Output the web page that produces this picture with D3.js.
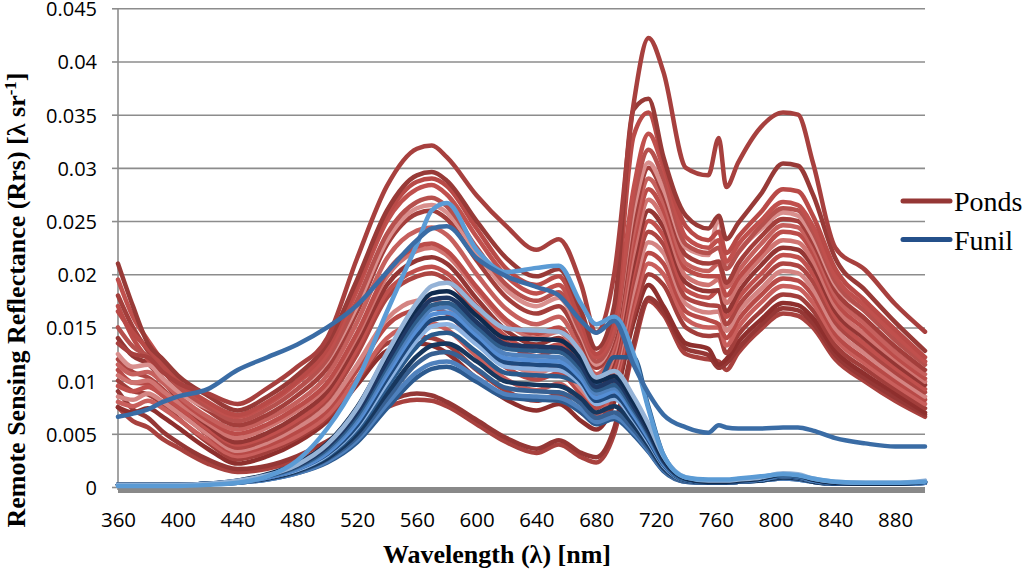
<!DOCTYPE html>
<html><head><meta charset="utf-8">
<script src="https://cdn.jsdelivr.net/npm/d3@7"></script>
<style>body{margin:0;background:#fff}svg{display:block}</style>
</head><body><svg id="c" width="1024" height="570"></svg>
<script>
const wavelengths = [360,370,380,390,400,420,440,460,480,500,520,540,560,570,580,600,620,640,655,670,680,692,705,715,725,740,755,762,767,775,790,805,815,825,840,860,880,900];
// Rrs values in units of 1e-3 sr^-1
const P01 = [13.5,12.5,12.2,10.8,9.8,8.8,7.8,9.3,11.3,14,21.5,28.3,31.8,32.1,31,27.4,24.5,22.3,23.3,19,14.5,20,36,42.2,39,30,29.3,32.8,28.2,30.5,33.8,35.2,35,30.5,22.5,20.4,17.2,14.6];
const P02 = [21,17,13.5,12,10.5,8.6,7.2,8.5,10.5,13.5,19.5,26,29.3,29.6,28.8,25,21.5,19.8,20.5,16.5,13,17,35.5,36.5,31,25.5,24.3,25.5,23.3,24.8,27.5,30.4,30.2,27.5,21.5,18.5,15.5,12.8];
const P03 = [16.5,14.5,13,11.5,10,8,6.8,8,10,13,19,25.5,28.7,29,28.3,24.3,20.5,19,19.8,15.5,12.5,16,33,35.2,30.5,24.5,23.2,24,22,23.5,25.8,28,27.8,25.5,20.5,17.5,14.8,12.2];
const P04 = [19.5,16,13.8,11.8,10,7.8,6.6,7.8,9.8,12.5,18.5,25,28,28.4,27.5,23.5,19.8,18.2,19,15,12.2,15,28,33.2,30,23.5,22.5,23.2,21.2,22.8,25,26.8,26.5,24.5,19.8,17,14.3,11.8];
const P05 = [15,13.2,12.3,11,9.5,7.5,6.2,7.3,9.2,12,17.5,23.8,26.8,27.2,26.4,22.5,19,17.5,18.3,14.5,11.8,14.5,27,31.7,29,22.8,22,22.5,20.5,22,24.5,26.2,26,24,19.3,16.5,13.8,11.5];
const P06 = [12.5,11.3,11.5,10.2,9,7.4,6.6,7.6,9.2,11.8,17,23.2,26.2,26.5,25.8,22,18.5,17,17.8,14.2,11.5,14.5,26,30.5,28,22.5,21.8,25.4,21,22.2,24.2,25.8,25.5,23.5,19,16.5,14,11.8];
const P07 = [18,15,12.8,11,9.3,7.2,5.8,6.8,8.6,11.2,16.5,22.8,25.7,26,25.2,21.3,17.8,16.3,17,13.6,11.2,14,25,30,27.5,21.8,21,21.2,19.2,21,23.5,25.2,25,23,18.5,15.8,13.2,11];
const P08 = [11.5,10.6,10.8,9.8,8.6,6.6,5.4,6.4,8,10.5,15.5,21.5,24.1,24.4,23.7,20,16.7,15.3,16,12.8,10.6,13.5,24,29,26.8,21,20.3,21,18.8,20.3,22.8,24.6,24.4,22.5,18,15.3,12.7,10.6];
const P09 = [17,14,12,10.2,8.5,6.3,5,5.9,7.5,9.8,14.5,20.2,22.6,22.9,22.2,18.8,15.7,14.4,15,12,10,13,23,28,26,20.5,19.8,19.8,18,19.6,22,24,23.8,22,17.5,14.8,12.3,10.2];
const P10 = [10.5,9.8,10,9,8,6,4.6,5.6,7.2,9.5,14.2,19.8,22.2,22.5,21.8,18.5,15.4,14,14.6,11.7,9.7,12.5,22,27,25.2,19.8,19,19.5,17.3,19,21.5,23.2,23,21.3,17,14.3,12,9.9];
const P11 = [14,12.3,11.6,10,8.3,5.8,4.2,5.1,6.7,9,13.6,19,21.3,21.6,21,17.7,14.7,13.4,14,11.2,9.3,12,21,26,24.4,19.2,18.4,18.5,16.5,18.3,20.8,22.5,22.3,20.7,16.5,13.9,11.6,9.6];
const P12 = [9.5,9,9.4,8.6,7.6,5.5,4,4.8,6.3,8.5,13,18.3,20.4,20.7,20.1,17,14.1,12.8,13.4,10.8,9,11.5,20.3,25,23.6,18.5,17.8,18.5,16,17.7,20,21.8,21.6,20,16,13.4,11.2,9.2];
const P13 = [12,10.8,10.3,9.2,7.8,5.4,3.7,4.5,6,8.2,12.5,17.8,19.8,20.1,19.5,16.4,13.6,12.3,12.9,10.4,8.7,11,19.5,24,22.8,17.8,17.1,17,15.3,17,19.3,21,20.8,19.3,15.5,13,10.8,8.9];
const P14 = [8.5,8.2,8.8,8,7,5,3.4,4.2,5.6,7.6,11.5,15.8,17.5,17.6,17,14.2,11.8,10.7,11.3,9.2,7.8,10.5,18.5,23,22,17.2,16.4,16.5,14.7,16.4,18.6,20.3,20.1,18.6,14.9,12.5,10.4,8.5];
const P15 = [11,9.8,9.7,8.6,7.3,4.9,3.2,3.9,5.2,7.2,11,15.2,16.7,16.9,16.3,13.6,11.2,10.1,10.7,8.7,7.4,10,17.8,22,21,16.5,15.7,15.3,14,15.7,18,19.6,19.4,18,14.4,12,10,8.2];
const P16 = [8,7.6,8.1,7.4,6.4,4.4,2.9,3.6,4.8,6.7,10.2,14,15.3,15.4,14.8,12.3,10.1,9.1,9.7,7.9,6.8,9.5,17,21,20,15.8,15,15,13.3,15,17.3,18.9,18.7,17.3,13.9,11.6,9.6,7.8];
const P17 = [10,9,8.7,7.8,6.5,4.2,2.6,3.3,4.6,6.5,10,13.5,14.1,14,13.4,11,9,8.1,8.7,7,6.2,8.8,16.2,20,19,15,14.2,14.3,12.6,14.3,16.5,18.1,17.9,16.6,13.3,11.1,9.2,7.4];
const P18 = [7.5,7,7.4,6.6,5.6,3.6,2.2,2.9,4.2,6.2,9.6,12.8,13.5,13.3,12.6,10.2,8.2,7.2,7.8,6.2,5.4,8,15.5,19,17,13.5,13,11.5,12,13.6,15.7,17.3,17.1,15.9,12.8,10.6,8.8,7];
const P19 = [9,7.3,6.5,5.2,4.2,2.6,1.7,2,2.9,4.3,6.2,8,8.8,8.6,8,6.3,4.6,3.6,4.4,3.2,2.8,5.5,13.5,17.8,16.5,13,12.4,11.2,11.6,13,15.2,16.8,16.6,15.4,12.4,10.2,8.4,6.8];
const P20 = [7.5,6.2,5.6,4.5,3.7,2.2,1.4,1.7,2.5,3.8,5.7,7.5,8.2,8.1,7.6,5.9,4.2,3.2,4,2.8,2.3,5,13,17.5,16.2,12.5,12,11.8,11,12.6,14.8,16.3,16.1,15,12,9.9,8.1,6.6];

const F01 = [0.2,0.2,0.2,0.2,0.2,0.3,0.6,1.1,2.1,4.0,7.4,12.6,17.3,18.9,19.2,16.9,14.9,14.7,14.6,12.6,10.3,10.9,8.5,5.9,2.9,0.9,0.6,0.6,0.6,0.7,0.9,1.3,1.2,0.8,0.5,0.4,0.4,0.6];
const F02 = [0.2,0.2,0.2,0.2,0.2,0.3,0.6,1.2,2.2,4.1,7.5,12.4,16.8,18.2,18.4,16.1,14.0,13.9,13.8,12.0,9.9,10.4,8.0,5.5,2.7,0.8,0.5,0.5,0.5,0.6,0.8,1.2,1.1,0.7,0.4,0.3,0.3,0.5];
const F03 = [0.2,0.2,0.2,0.2,0.2,0.3,0.6,1.1,2.0,3.8,7.0,11.8,16.2,17.6,17.8,15.5,13.4,13.2,13.1,11.4,9.4,10.0,7.6,5.2,2.5,0.8,0.5,0.5,0.5,0.6,0.8,1.2,1.1,0.7,0.4,0.3,0.3,0.5];
const F04 = [0.2,0.2,0.2,0.2,0.2,0.3,0.5,1.0,1.9,3.6,6.7,11.4,15.7,17.1,17.3,15.1,13.0,12.8,12.7,11.0,9.1,9.6,7.3,5.0,2.4,0.7,0.5,0.5,0.5,0.6,0.8,1.1,1.0,0.7,0.4,0.3,0.3,0.5];
const F05 = [0.2,0.2,0.2,0.2,0.2,0.3,0.5,1.0,1.8,3.4,6.4,11.0,15.3,16.7,16.9,14.7,12.5,12.3,12.2,10.6,8.8,9.3,7.1,4.8,2.3,0.7,0.5,0.5,0.5,0.6,0.7,1.1,1.0,0.6,0.4,0.3,0.3,0.5];
const F06 = [0.2,0.2,0.2,0.2,0.2,0.3,0.5,0.9,1.7,3.2,6.1,10.6,14.8,16.2,16.4,14.3,12.1,11.9,11.8,10.2,8.4,9.0,6.8,4.6,2.2,0.7,0.5,0.5,0.5,0.6,0.7,1.1,1.0,0.6,0.4,0.3,0.3,0.4];
const F07 = [0.2,0.2,0.2,0.2,0.2,0.3,0.5,0.9,1.7,3.1,5.8,10.2,14.3,15.7,15.9,13.9,11.7,11.5,11.4,9.9,8.1,8.6,6.5,4.4,2.1,0.6,0.4,0.4,0.4,0.5,0.7,1.0,0.9,0.6,0.3,0.3,0.3,0.4];
const F08 = [0.2,0.2,0.2,0.2,0.2,0.3,0.5,0.9,1.6,3.0,5.6,9.8,13.8,15.1,15.3,13.4,11.3,11.1,11.0,9.6,7.8,8.3,6.3,4.2,2.0,0.6,0.4,0.4,0.4,0.5,0.7,1.0,0.9,0.6,0.3,0.3,0.3,0.4];
const F09 = [0.2,0.2,0.2,0.2,0.2,0.3,0.5,0.9,1.6,2.9,5.4,9.4,13.2,14.3,14.5,12.7,10.7,10.5,10.4,9.8,9.6,12.2,12.2,7.5,3.0,0.8,0.5,0.5,0.5,0.6,0.8,1.1,1.0,0.6,0.4,0.3,0.3,0.5];
const F10 = [0.2,0.2,0.2,0.2,0.2,0.3,0.5,0.8,1.5,2.7,5.0,8.8,12.3,13.3,13.5,11.8,9.9,9.6,9.5,8.3,7.0,7.6,5.8,3.9,1.8,0.6,0.4,0.4,0.4,0.5,0.6,0.9,0.8,0.5,0.3,0.3,0.3,0.4];
const F11 = [0.2,0.2,0.2,0.2,0.2,0.3,0.4,0.8,1.4,2.6,4.7,8.3,11.6,12.5,12.7,11.1,9.3,9.0,8.9,7.8,6.5,7.0,5.4,3.6,1.7,0.5,0.4,0.4,0.4,0.5,0.6,0.9,0.8,0.5,0.3,0.3,0.3,0.4];
const F12 = [0.2,0.2,0.2,0.2,0.2,0.3,0.4,0.7,1.3,2.4,4.4,7.8,10.8,11.6,11.8,10.3,8.7,8.5,8.4,7.3,6.1,6.6,5.1,3.4,1.6,0.5,0.4,0.4,0.4,0.5,0.6,0.8,0.7,0.5,0.3,0.3,0.3,0.4];
const F13 = [0.2,0.2,0.2,0.2,0.2,0.3,0.4,0.7,1.3,2.3,4.2,7.4,10.3,11.1,11.3,9.9,8.4,8.2,8.1,7.0,5.9,6.4,4.9,3.3,1.5,0.5,0.4,0.4,0.4,0.5,0.6,0.8,0.7,0.5,0.3,0.3,0.3,0.4];
const F14 = [0.1,0.1,0.1,0.1,0.1,0.2,0.4,1.0,2.5,5.5,10,16.5,22.8,26,26.7,22.3,20.2,20.6,20.8,17.2,15.3,16,12.5,7.3,3,0.9,0.7,0.7,0.7,0.8,1,1.2,1.1,0.8,0.5,0.4,0.4,0.5];
const F15 = [6.6,6.9,7.3,8,8.5,9.2,11,12.2,13.4,15,17.1,20.2,23.2,24.3,24.5,21.5,19.8,18.8,18,15.6,14.5,15.6,11.5,8.8,6.8,5.6,5.1,5.8,5.6,5.5,5.5,5.6,5.6,5.3,4.6,4.1,3.8,3.8];

const pondsSeries = [P20,P19,P18,P17,P16,P15,P14,P13,P12,P11,P10,P09,P08,P07,P06,P05,P04,P03,P02,P01];
const pondsColors = ['#A8413E','#953735','#8E2F2D','#A23E3B','#C95F5C','#B84A47','#D48482','#AD4542','#C0504D','#943634','#D07471','#BB4C49','#C6605D','#A33E3B','#D98F8D','#B6504D','#C0504D','#B94A47','#983A37','#A7403E'];
const funilSeries = [F13,F12,F11,F10,F09,F08,F07,F06,F05,F04,F03,F02,F01,F14,F15];
const funilColors = ['#2C5A8F','#4F81BD','#376092','#17375E','#2A5A8C','#8DB3E2','#1F497D','#558ED5','#4F81BD','#2E5C8A','#1F3864','#0F2B4F','#95B3D7','#5B9BD5','#3A6CA5'];

const xTicks = [360,400,440,480,520,560,600,640,680,720,760,800,840,880];
const yTicks = [0,0.005,0.01,0.015,0.02,0.025,0.03,0.035,0.04,0.045];
const legendNames = ['Ponds','Funil'];
const legendColors = ['#953735','#24508A'];

const svg = d3.select('#c');
const x = d3.scaleLinear().domain([360,900]).range([118,925]);
const y = d3.scaleLinear().domain([0,0.045]).range([487,8.3]);

// gridlines
svg.append('g').attr('transform','translate(118,0)')
  .call(d3.axisLeft(y).tickValues(yTicks.filter(d=>d>0)).tickSize(-(925-118)).tickFormat(''))
  .call(g=>g.select('.domain').remove())
  .call(g=>g.selectAll('line').attr('stroke','#8c8c8c').attr('stroke-width',1.6));

// y axis with labels
svg.append('g').attr('transform','translate(118,0)')
  .call(d3.axisLeft(y).tickValues(yTicks).tickSize(6).tickPadding(15).tickFormat(d=>String(+d.toFixed(3))))
  .call(g=>g.select('.domain').remove())
  .call(g=>g.selectAll('line').attr('stroke','#8c8c8c').attr('stroke-width',1.6))
  .call(g=>g.selectAll('text').attr('fill','#000').attr('dy','0.37em').style('font-family','"Open Sans", sans-serif').style('font-size','20px'));
svg.append('line').attr('x1',118).attr('x2',118).attr('y1',y(0.045)).attr('y2',y(0)+3)
  .attr('stroke','#8c8c8c').attr('stroke-width',1.6);

// x axis
svg.append('g').attr('transform',`translate(0,${y(0)})`)
  .call(d3.axisBottom(x).tickValues(xTicks).tickSize(0).tickPadding(25))
  .call(g=>g.select('.domain').remove())
  .call(g=>g.selectAll('text').attr('fill','#000').style('font-family','"Open Sans", sans-serif').style('font-size','20.5px'));
svg.append('line').attr('x1',x(360)).attr('x2',x(900)).attr('y1',y(0)+3).attr('y2',y(0)+3)
  .attr('stroke','#898989').attr('stroke-width',6);

const line = d3.line().x((d,i)=>x(wavelengths[i])).y(d=>y(d/1000)).curve(d3.curveMonotoneX);

svg.append('g').selectAll('path').data(pondsSeries).join('path')
  .attr('d',line).attr('fill','none').attr('stroke',(d,i)=>pondsColors[i])
  .attr('stroke-width',4.5).attr('stroke-linejoin','round').attr('stroke-linecap','round');
svg.append('g').selectAll('path').data(funilSeries).join('path')
  .attr('d',line).attr('fill','none').attr('stroke',(d,i)=>funilColors[i])
  .attr('stroke-width',4.5).attr('stroke-linejoin','round').attr('stroke-linecap','round');

// legend
const lg = svg.append('g');
legendNames.forEach((n,i)=>{
  const yy = 201 + i*38.5;
  lg.append('line').attr('x1',903).attr('x2',950).attr('y1',yy).attr('y2',yy)
    .attr('stroke',legendColors[i]).attr('stroke-width',5).attr('stroke-linecap','round');
  lg.append('text').attr('x',954).attr('y',yy+10).text(n)
    .style('font-family','"Liberation Serif", "Times New Roman", serif').style('font-size','28px').attr('fill','#000');
});

// axis titles
svg.append('text').attr('x',497).attr('y',563).attr('text-anchor','middle')
  .style('font-family','"Liberation Serif", "Times New Roman", serif').style('font-size','26px').style('font-weight','bold')
  .text('Wavelength (λ) [nm]');
const yt = svg.append('text').attr('transform','translate(25,300) rotate(-90)').attr('text-anchor','middle')
  .style('font-family','"Liberation Serif", "Times New Roman", serif').style('font-size','26px').style('font-weight','bold');
yt.append('tspan').text('Remote Sensing Reflectance (Rrs) [λ sr');
yt.append('tspan').attr('dy',-9).style('font-size','17px').text('-1');
yt.append('tspan').attr('dy',9).text(']');
</script></body></html>
